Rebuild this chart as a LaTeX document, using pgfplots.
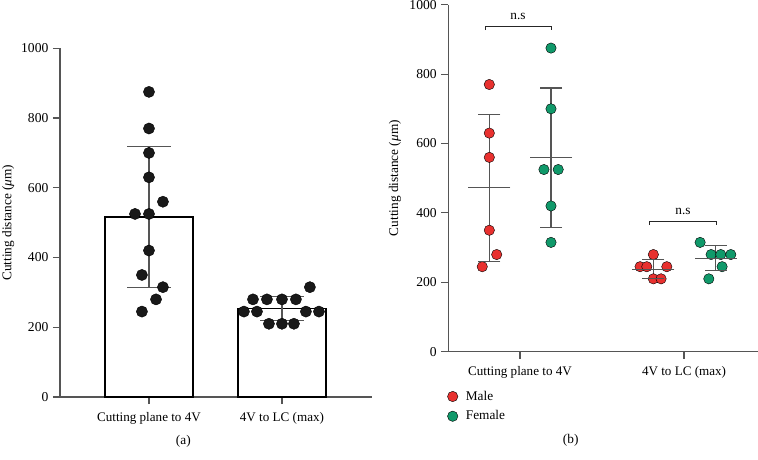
\documentclass[border=0pt]{standalone}
\usepackage{fontspec}
\setmainfont{Liberation Serif}
\usepackage{pgfplots}
\pgfplotsset{compat=1.18}
\definecolor{axgray}{HTML}{555555}
\definecolor{mred}{HTML}{E8312F}
\definecolor{fgreen}{HTML}{10996A}
\begin{document}
\fontsize{13.3}{16}\selectfont
\begin{tikzpicture}[x=1pt,y=1pt]
\useasboundingbox (0,0) rectangle (758,459);
\pgfplotsset{
  myaxis/.style={
    scale only axis,
    axis lines=left,
    axis line style={-, axgray, line width=1.1pt},
    tick align=outside,
    major tick length=7pt,
    tick style={axgray, line width=1.1pt},
    ymin=0, ymax=1000,
    ytick={0,200,400,600,800,1000},
    xtick={0,1},
    xticklabels={Cutting plane to 4V, 4V to LC (max)},
    /pgf/number format/1000 sep={},
    /pgf/number format/assume math mode=true,
    yticklabel style={font=\fontsize{13.6}{15}\selectfont},
    xticklabel style={font=\fontsize{13.1}{15}\selectfont, yshift=-3.5pt},
    clip=false,
  },
  ebar/.style={axgray, line width=1.1pt, mark=none},
  ecap/.style={only marks, mark=-, mark size=#1, mark options={axgray, line width=1.1pt}},
}
% ---------------- panel (a)
\begin{axis}[myaxis, at={(60pt,62pt)}, anchor=south west,
  width=312pt, height=348.7pt, xmin=-0.669, xmax=1.677]
\addplot[ybar, bar width=88pt, draw=black, fill=white, line width=1.3pt] coordinates {(0,516) (1,254)};
\addplot[ebar] coordinates {(0,315) (0,718)};
\addplot[ebar] coordinates {(1,220) (1,288)};
\addplot[ecap=22pt] coordinates {(0,315) (0,718) (1,220) (1,288)};
\addplot[only marks, mark=*, mark size=5.6pt, mark options={fill=black!90, draw=none}] coordinates {
 (0,875)(0,770)(0,700)(0,630)(0.105,560)(-0.105,525)(0,525)(0,420)(-0.053,350)(0.105,315)(0.053,280)(-0.053,245)
 (1.21,315)(0.782,280)(0.887,280)(1,280)(1.105,280)(0.714,245)(0.812,245)(1.18,245)(1.278,245)(0.902,210)(1,210)(1.09,210)};
\node[rotate=90, anchor=center] at ([xshift=-51.7pt]axis description cs:0,0.5) {Cutting distance (\textit{μ}m)};
\end{axis}
% ---------------- panel (b)
\begin{axis}[myaxis, at={(448.3pt,107.3pt)}, anchor=south west,
  width=309.4pt, height=347pt, xmin=-0.437, xmax=1.449,
  legend style={at={(axis description cs:0,0)}, anchor=north west, xshift=-1pt, yshift=-37pt,
    draw=none, fill=none, font=\fontsize{13.3}{15}\selectfont, row sep=4.5pt, column sep=6pt, inner sep=0pt},
  legend cell align=left,
  legend image code/.code={\draw[#1] plot coordinates {(5pt,0pt)};}]
\addplot[only marks, mark=*, mark size=5.2pt, mark options={fill=mred, draw=none}] coordinates {
 (-0.187,770)(-0.187,630)(-0.187,560)(-0.187,350)(-0.142,280)(-0.230,245)
 (0.813,280)(0.732,245)(0.773,245)(0.895,245)(0.813,210)(0.86,210)};
\addlegendentry{Male}
\addplot[only marks, mark=*, mark size=5.2pt, mark options={fill=fgreen, draw=none}] coordinates {
 (0.189,875)(0.189,700)(0.146,525)(0.233,525)(0.189,420)(0.189,315)
 (1.098,315)(1.165,280)(1.224,280)(1.285,280)(1.232,245)(1.151,210)};
\addlegendentry{Female}
\addplot[ebar, forget plot] coordinates {(-0.187,260) (-0.187,684)};
\addplot[ebar, forget plot] coordinates {(0.189,359) (0.189,760)};
\addplot[ebar, forget plot] coordinates {(0.813,212) (0.813,265)};
\addplot[ebar, forget plot] coordinates {(1.194,233) (1.194,305)};
\addplot[ecap=21pt, forget plot] coordinates {(-0.187,472) (0.189,560) (0.813,238) (1.194,269)};
\addplot[ecap=11pt, forget plot] coordinates {(-0.187,260) (-0.187,684) (0.189,359) (0.189,760) (0.813,212) (0.813,265) (1.194,233) (1.194,305)};
\draw[black!85, line width=0.9pt] (axis cs:-0.213,927) -- (axis cs:-0.213,937) -- (axis cs:0.189,937) -- (axis cs:0.189,927);
\node at (axis cs:-0.012,965) {n.s};
\draw[black!85, line width=0.9pt] (axis cs:0.788,365) -- (axis cs:0.788,375) -- (axis cs:1.199,375) -- (axis cs:1.199,365);
\node at (axis cs:0.994,403) {n.s};
\node[rotate=90, anchor=center] at ([xshift=-53.3pt]axis description cs:0,0.5) {Cutting distance (\textit{μ}m)};
\end{axis}
\node at (183.3pt,17.3pt) {(a)};
\node at (570.7pt,18.3pt) {(b)};
\end{tikzpicture}
\end{document}
